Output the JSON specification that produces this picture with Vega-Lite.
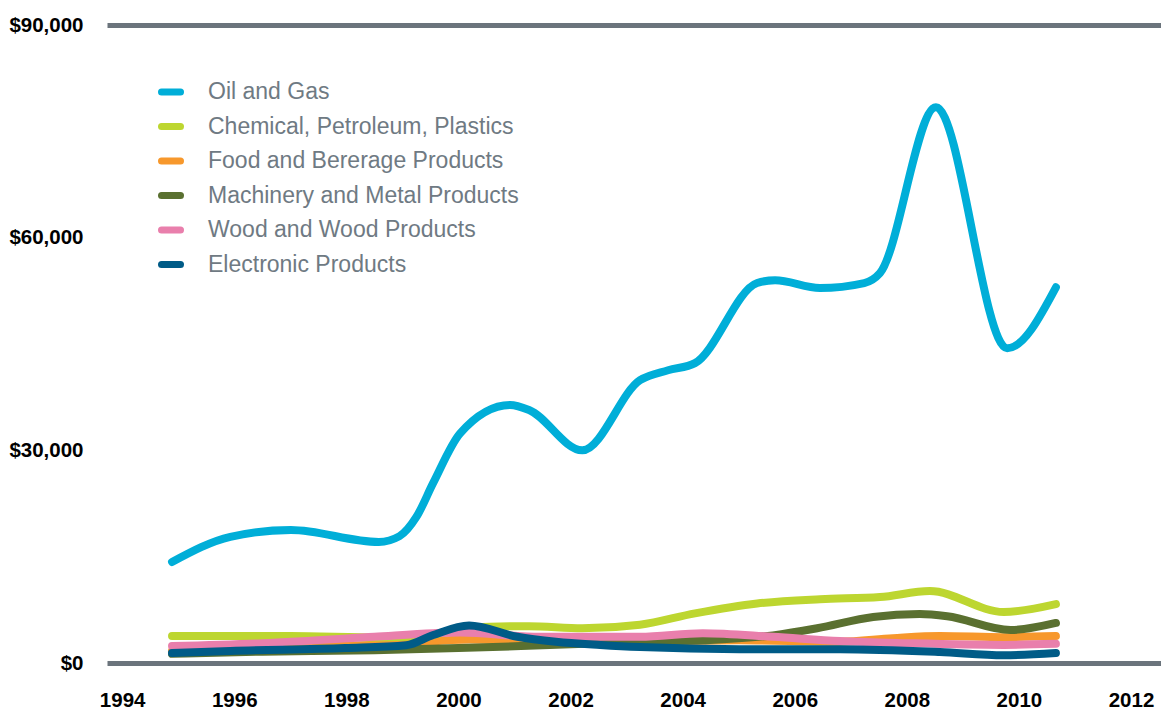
{
  "$schema": "https://vega.github.io/schema/vega-lite/v6.json",
  "width": 1054,
  "height": 638,
  "autosize": {"type": "none"},
  "padding": {"left": 107, "top": 25, "right": 0, "bottom": 48},
  "background": "white",
  "config": {"view": {"stroke": null}},
  "data": {"values": [
    {"series": "Food and Bererage Products", "year": 1994.89, "value": 1700},
    {"series": "Food and Bererage Products", "year": 1997.0, "value": 2200},
    {"series": "Food and Bererage Products", "year": 1999.0, "value": 2700},
    {"series": "Food and Bererage Products", "year": 2000.19, "value": 3300},
    {"series": "Food and Bererage Products", "year": 2001.5, "value": 3100},
    {"series": "Food and Bererage Products", "year": 2003.24, "value": 3000},
    {"series": "Food and Bererage Products", "year": 2005.0, "value": 3200},
    {"series": "Food and Bererage Products", "year": 2006.81, "value": 3000},
    {"series": "Food and Bererage Products", "year": 2007.75, "value": 3500},
    {"series": "Food and Bererage Products", "year": 2008.59, "value": 3800},
    {"series": "Food and Bererage Products", "year": 2009.73, "value": 3650},
    {"series": "Food and Bererage Products", "year": 2010.66, "value": 3800},

    {"series": "Machinery and Metal Products", "year": 1994.89, "value": 1300},
    {"series": "Machinery and Metal Products", "year": 1996.5, "value": 1600},
    {"series": "Machinery and Metal Products", "year": 1998.5, "value": 1800},
    {"series": "Machinery and Metal Products", "year": 2000.0, "value": 2100},
    {"series": "Machinery and Metal Products", "year": 2001.5, "value": 2500},
    {"series": "Machinery and Metal Products", "year": 2003.24, "value": 3000},
    {"series": "Machinery and Metal Products", "year": 2004.36, "value": 3200},
    {"series": "Machinery and Metal Products", "year": 2005.61, "value": 3900},
    {"series": "Machinery and Metal Products", "year": 2006.4, "value": 4900},
    {"series": "Machinery and Metal Products", "year": 2007.4, "value": 6500},
    {"series": "Machinery and Metal Products", "year": 2008.23, "value": 6900},
    {"series": "Machinery and Metal Products", "year": 2008.72, "value": 6600},
    {"series": "Machinery and Metal Products", "year": 2009.85, "value": 4650},
    {"series": "Machinery and Metal Products", "year": 2010.66, "value": 5650},

    {"series": "Chemical, Petroleum, Plastics", "year": 1994.89, "value": 3800},
    {"series": "Chemical, Petroleum, Plastics", "year": 1997.0, "value": 3800},
    {"series": "Chemical, Petroleum, Plastics", "year": 1998.58, "value": 3600},
    {"series": "Chemical, Petroleum, Plastics", "year": 1999.55, "value": 4000},
    {"series": "Chemical, Petroleum, Plastics", "year": 2000.19, "value": 5000},
    {"series": "Chemical, Petroleum, Plastics", "year": 2001.26, "value": 5200},
    {"series": "Chemical, Petroleum, Plastics", "year": 2002.21, "value": 4900},
    {"series": "Chemical, Petroleum, Plastics", "year": 2003.24, "value": 5400},
    {"series": "Chemical, Petroleum, Plastics", "year": 2004.22, "value": 7000},
    {"series": "Chemical, Petroleum, Plastics", "year": 2005.33, "value": 8400},
    {"series": "Chemical, Petroleum, Plastics", "year": 2006.45, "value": 9000},
    {"series": "Chemical, Petroleum, Plastics", "year": 2007.52, "value": 9300},
    {"series": "Chemical, Petroleum, Plastics", "year": 2008.41, "value": 10150},
    {"series": "Chemical, Petroleum, Plastics", "year": 2009.73, "value": 7200},
    {"series": "Chemical, Petroleum, Plastics", "year": 2010.66, "value": 8300},

    {"series": "Wood and Wood Products", "year": 1994.89, "value": 2400},
    {"series": "Wood and Wood Products", "year": 1996.5, "value": 2800},
    {"series": "Wood and Wood Products", "year": 1998.5, "value": 3700},
    {"series": "Wood and Wood Products", "year": 1999.55, "value": 4200},
    {"series": "Wood and Wood Products", "year": 2000.03, "value": 4300},
    {"series": "Wood and Wood Products", "year": 2001.46, "value": 3700},
    {"series": "Wood and Wood Products", "year": 2003.24, "value": 3700},
    {"series": "Wood and Wood Products", "year": 2004.36, "value": 4200},
    {"series": "Wood and Wood Products", "year": 2005.61, "value": 3700},
    {"series": "Wood and Wood Products", "year": 2006.81, "value": 3100},
    {"series": "Wood and Wood Products", "year": 2008.0, "value": 2800},
    {"series": "Wood and Wood Products", "year": 2009.73, "value": 2550},
    {"series": "Wood and Wood Products", "year": 2010.66, "value": 2700},

    {"series": "Electronic Products", "year": 1994.89, "value": 1400},
    {"series": "Electronic Products", "year": 1995.93, "value": 1700},
    {"series": "Electronic Products", "year": 1997.98, "value": 2100},
    {"series": "Electronic Products", "year": 1999.07, "value": 2500},
    {"series": "Electronic Products", "year": 1999.55, "value": 3950},
    {"series": "Electronic Products", "year": 2000.19, "value": 5300},
    {"series": "Electronic Products", "year": 2001.05, "value": 3700},
    {"series": "Electronic Products", "year": 2001.74, "value": 3000},
    {"series": "Electronic Products", "year": 2002.53, "value": 2550},
    {"series": "Electronic Products", "year": 2003.24, "value": 2250},
    {"series": "Electronic Products", "year": 2005.02, "value": 1950},
    {"series": "Electronic Products", "year": 2006.81, "value": 1950},
    {"series": "Electronic Products", "year": 2008.59, "value": 1550},
    {"series": "Electronic Products", "year": 2009.73, "value": 1100},
    {"series": "Electronic Products", "year": 2010.66, "value": 1400},

    {"series": "Oil and Gas", "year": 1994.89, "value": 14250},
    {"series": "Oil and Gas", "year": 1995.93, "value": 17800},
    {"series": "Oil and Gas", "year": 1997.01, "value": 18760},
    {"series": "Oil and Gas", "year": 1998.58, "value": 17070},
    {"series": "Oil and Gas", "year": 1998.95, "value": 17900},
    {"series": "Oil and Gas", "year": 1999.25, "value": 20600},
    {"series": "Oil and Gas", "year": 1999.55, "value": 25400},
    {"series": "Oil and Gas", "year": 2000.03, "value": 32400},
    {"series": "Oil and Gas", "year": 2000.92, "value": 36400},
    {"series": "Oil and Gas", "year": 2001.26, "value": 35700},
    {"series": "Oil and Gas", "year": 2002.21, "value": 30000},
    {"series": "Oil and Gas", "year": 2003.24, "value": 39900},
    {"series": "Oil and Gas", "year": 2003.74, "value": 41300},
    {"series": "Oil and Gas", "year": 2004.22, "value": 42300},
    {"series": "Oil and Gas", "year": 2005.33, "value": 53600},
    {"series": "Oil and Gas", "year": 2005.65, "value": 54000},
    {"series": "Oil and Gas", "year": 2006.45, "value": 52900},
    {"series": "Oil and Gas", "year": 2007.24, "value": 53600},
    {"series": "Oil and Gas", "year": 2007.52, "value": 55000},
    {"series": "Oil and Gas", "year": 2008.52, "value": 78400},
    {"series": "Oil and Gas", "year": 2009.79, "value": 44400},
    {"series": "Oil and Gas", "year": 2010.66, "value": 53000}
  ]},
  "mark": {"type": "line", "interpolate": "monotone", "strokeWidth": 8, "strokeCap": "round", "strokeJoin": "round"},
  "encoding": {
    "x": {
      "field": "year", "type": "quantitative",
      "scale": {"domain": [1993.73, 2012.535], "nice": false, "zero": false},
      "axis": {
        "values": [1994, 1996, 1998, 2000, 2002, 2004, 2006, 2008, 2010, 2012],
        "format": "d", "title": null, "grid": false, "domain": false, "ticks": false,
        "labelFont": "Liberation Sans", "labelFontWeight": "bold", "labelFontSize": 20.5,
        "labelColor": "#000000", "labelPadding": 27, "labelFlush": false, "labelOverlap": false
      }
    },
    "y": {
      "field": "value", "type": "quantitative",
      "scale": {"domain": [0, 90000], "nice": false},
      "axis": {
        "values": [0, 30000, 60000, 90000],
        "format": "$,.0f", "title": null, "domain": false, "ticks": false,
        "grid": true, "gridColor": "#6b747c", "gridWidth": 5,
        "gridOpacity": {"condition": {"test": "datum.value === 0 || datum.value === 90000", "value": 1}, "value": 0},
        "labelFont": "Liberation Sans", "labelFontWeight": "bold", "labelFontSize": 20.5,
        "labelColor": "#000000", "labelPadding": 24, "labelFlush": false, "labelOverlap": false
      }
    },
    "color": {
      "field": "series", "type": "nominal",
      "scale": {
        "domain": ["Oil and Gas", "Chemical, Petroleum, Plastics", "Food and Bererage Products", "Machinery and Metal Products", "Wood and Wood Products", "Electronic Products"],
        "range": ["#00aed8", "#bdd630", "#f7982c", "#5a7030", "#e97fac", "#005b87"]
      },
      "legend": {
        "orient": "none", "legendX": 51, "legendY": 54, "title": null,
        "symbolType": "stroke", "symbolSize": 361, "symbolStrokeWidth": 7,
        "labelFont": "Liberation Sans", "labelFontSize": 23, "labelColor": "#6f7a83",
        "labelOffset": 24, "rowPadding": 6.5, "padding": 0, "labelLimit": 500,
        "encode": {"symbols": {"update": {"strokeCap": {"value": "round"}}}}
      }
    }
  }
}
